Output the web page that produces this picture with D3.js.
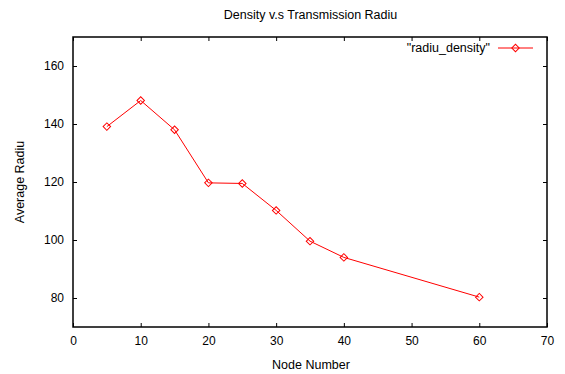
<!DOCTYPE html>
<html>
<head>
<meta charset="utf-8">
<script src="https://cdn.jsdelivr.net/npm/d3@7"></script>
<style>
  body { margin: 0; background: #fff; }
  svg text { font-family: "Liberation Sans", Arial, sans-serif; font-size: 12.5px; fill: #000; }
</style>
</head>
<body>
<div id="chart"></div>
<script>
// data
var nodeNumber = [5, 10, 15, 20, 25, 30, 35, 40, 60];
var avgRadiu = [139.1, 148.1, 138.0, 119.7, 119.5, 110.2, 99.6, 94.0, 80.3];
var xTicks = [0, 10, 20, 30, 40, 50, 60, 70];
var yTicks = [80, 100, 120, 140, 160];
var seriesName = '"radiu_density"';

var width = 565, height = 374;
var margin = {top: 37, right: 18, bottom: 47, left: 73};
var w = width - margin.left - margin.right;
var h = height - margin.top - margin.bottom;

var x = d3.scaleLinear().domain([0, 70]).range([0, w]);
var y = d3.scaleLinear().domain([70, 170]).range([h, 0]);

var svg = d3.select("#chart").append("svg")
    .attr("width", width)
    .attr("height", height);

var g = svg.append("g")
    .attr("transform", "translate(" + margin.left + "," + margin.top + ")");

// ticks point inward on all four sides, like gnuplot
var tl = 4;
g.append("g")
    .attr("transform", "translate(0," + h + ")")
    .call(d3.axisBottom(x).tickValues(xTicks).tickSizeInner(-tl).tickSizeOuter(0).tickPadding(9))
    .call(function(a) { a.select(".domain").remove(); });
g.append("g")
    .call(d3.axisTop(x).tickValues(xTicks).tickSizeInner(-tl).tickSizeOuter(0).tickFormat(""))
    .call(function(a) { a.select(".domain").remove(); });
g.append("g")
    .call(d3.axisLeft(y).tickValues(yTicks).tickSizeInner(-tl).tickSizeOuter(0).tickPadding(9))
    .call(function(a) { a.select(".domain").remove(); });
g.append("g")
    .attr("transform", "translate(" + w + ",0)")
    .call(d3.axisRight(y).tickValues(yTicks).tickSizeInner(-tl).tickSizeOuter(0).tickFormat(""))
    .call(function(a) { a.select(".domain").remove(); });

g.selectAll(".tick line").attr("stroke", "#000");
g.selectAll(".tick text").style("font-size", "12px").style("font-family", "Liberation Sans, Arial, sans-serif");

// frame
g.append("rect")
    .attr("width", w)
    .attr("height", h)
    .attr("fill", "none")
    .attr("stroke", "#000")
    .attr("stroke-width", 1.5);

var pts = nodeNumber.map(function(d, i) { return [d, avgRadiu[i]]; });

var line = d3.line()
    .x(function(d) { return x(d[0]); })
    .y(function(d) { return y(d[1]); });

g.append("path")
    .datum(pts)
    .attr("d", line)
    .attr("fill", "none")
    .attr("stroke", "#ff0000")
    .attr("stroke-width", 1);

var diamond = d3.symbol().type(d3.symbolSquare).size(28);
g.selectAll("path.pt")
    .data(pts)
    .enter()
    .append("path")
    .attr("class", "pt")
    .attr("d", diamond)
    .attr("transform", function(d) { return "translate(" + x(d[0]) + "," + y(d[1]) + ") rotate(45)"; })
    .attr("fill", "none")
    .attr("stroke", "#ff0000")
    .attr("stroke-width", 1);

// legend
var lg = svg.append("g").attr("transform", "translate(0,48)");
lg.append("text")
    .attr("x", 490)
    .attr("y", 4)
    .attr("text-anchor", "end")
    .text(seriesName);
lg.append("line")
    .attr("x1", 498).attr("x2", 533)
    .attr("y1", 0).attr("y2", 0)
    .attr("stroke", "#ff0000");
lg.append("path")
    .attr("d", diamond)
    .attr("transform", "translate(515.5,0) rotate(45)")
    .attr("fill", "none")
    .attr("stroke", "#ff0000");

// titles
svg.append("text")
    .attr("x", 310.5)
    .attr("y", 19)
    .attr("text-anchor", "middle")
    .text("Density v.s Transmission Radiu");
svg.append("text")
    .attr("x", 311)
    .attr("y", 369)
    .attr("text-anchor", "middle")
    .text("Node Number");
svg.append("text")
    .attr("transform", "translate(23.5,182) rotate(-90)")
    .attr("text-anchor", "middle")
    .text("Average Radiu");
</script>
</body>
</html>
